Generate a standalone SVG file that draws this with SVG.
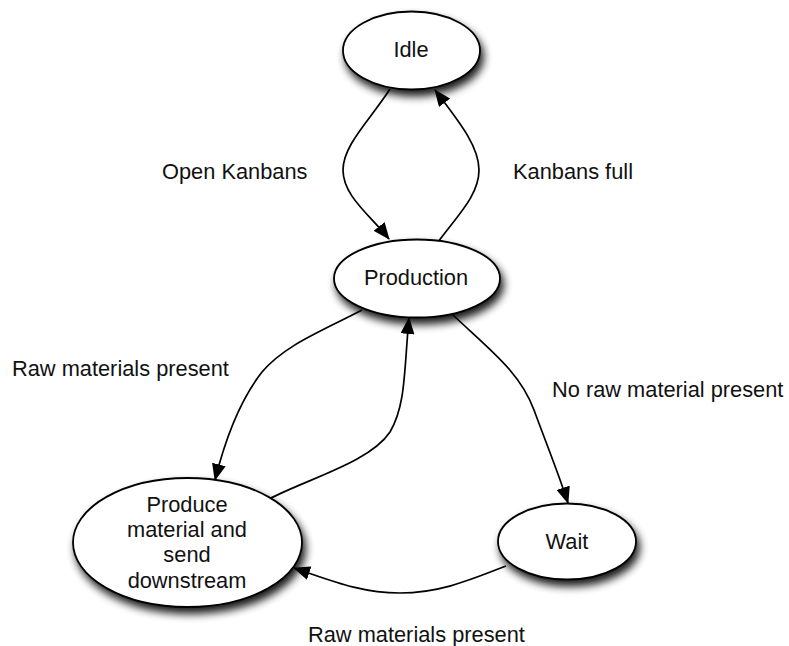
<svg xmlns="http://www.w3.org/2000/svg" width="789" height="646" viewBox="0 0 789 646">
  <style>
    .node ellipse { fill: #ffffff; stroke: #000000; stroke-width: 1.8; filter: url(#shadow); }
    .label { font-family: "Liberation Sans", Arial, Helvetica, sans-serif; font-size: 21.8px; fill: #111111; }
    .center { text-anchor: middle; }
    .edge { fill: none; stroke: #000000; stroke-width: 1.7; marker-end: url(#arrow); }
  </style>
  <defs>
    <filter id="shadow" x="-30%" y="-30%" width="170%" height="180%">
      <feGaussianBlur in="SourceAlpha" stdDeviation="4"/>
      <feOffset dx="3" dy="6" result="blur"/>
      <feComponentTransfer>
        <feFuncA type="linear" slope="0.9"/>
      </feComponentTransfer>
      <feMerge>
        <feMergeNode/>
        <feMergeNode in="SourceGraphic"/>
      </feMerge>
    </filter>
    <marker id="arrow" markerUnits="userSpaceOnUse" markerWidth="18" markerHeight="14" refX="16" refY="7" orient="auto">
      <path d="M0,0 L17,7 L0,14 Z" fill="#000000"/>
    </marker>
  </defs>

  <!-- transitions -->
  <g id="connectors">
    <path class="edge" d="M390,89 C370,120 343,145 343,170 C343,196 370,215 389,239"/>
    <path class="edge" d="M438,242 C458,215 479,195 479,170 C479,145 456,118 435,90"/>
    <path class="edge" d="M362,310 C320,332 285,345 262,372 C240,400 225,440 215,480"/>
    <path class="edge" d="M269,499 C310,478 370,462 390,432 C406,405 404,370 409,318"/>
    <path class="edge" d="M453,315 C490,350 520,372 534,410 C548,448 558,472 568,503"/>
    <path class="edge" d="M506,566 C470,580 440,593 400,593 C360,593 330,580 294,568"/>
  </g>

  <!-- transition labels -->
  <g id="edge-labels">
    <text class="label" x="162" y="179">Open Kanbans</text>
    <text class="label" x="513" y="179">Kanbans full</text>
    <text class="label" x="12" y="376">Raw materials present</text>
    <text class="label" x="552" y="397">No raw material present</text>
    <text class="label" x="308" y="642">Raw materials present</text>
  </g>

  <!-- states -->
  <g id="idle" class="node">
    <ellipse cx="411.5" cy="50.5" rx="68.5" ry="39"/>
    <text class="label center" x="411" y="57">Idle</text>
  </g>
  <g id="production" class="node">
    <ellipse cx="417" cy="278.5" rx="83" ry="39"/>
    <text class="label center" x="416" y="285">Production</text>
  </g>
  <g id="produce" class="node">
    <ellipse cx="187.5" cy="542.5" rx="114.5" ry="64.5"/>
    <text class="label center" x="187" y="512">Produce</text>
    <text class="label center" x="187" y="537">material and</text>
    <text class="label center" x="187" y="562">send</text>
    <text class="label center" x="187" y="588">downstream</text>
  </g>
  <g id="wait" class="node">
    <ellipse cx="567" cy="541.5" rx="69" ry="38"/>
    <text class="label center" x="567" y="549">Wait</text>
  </g>
</svg>
